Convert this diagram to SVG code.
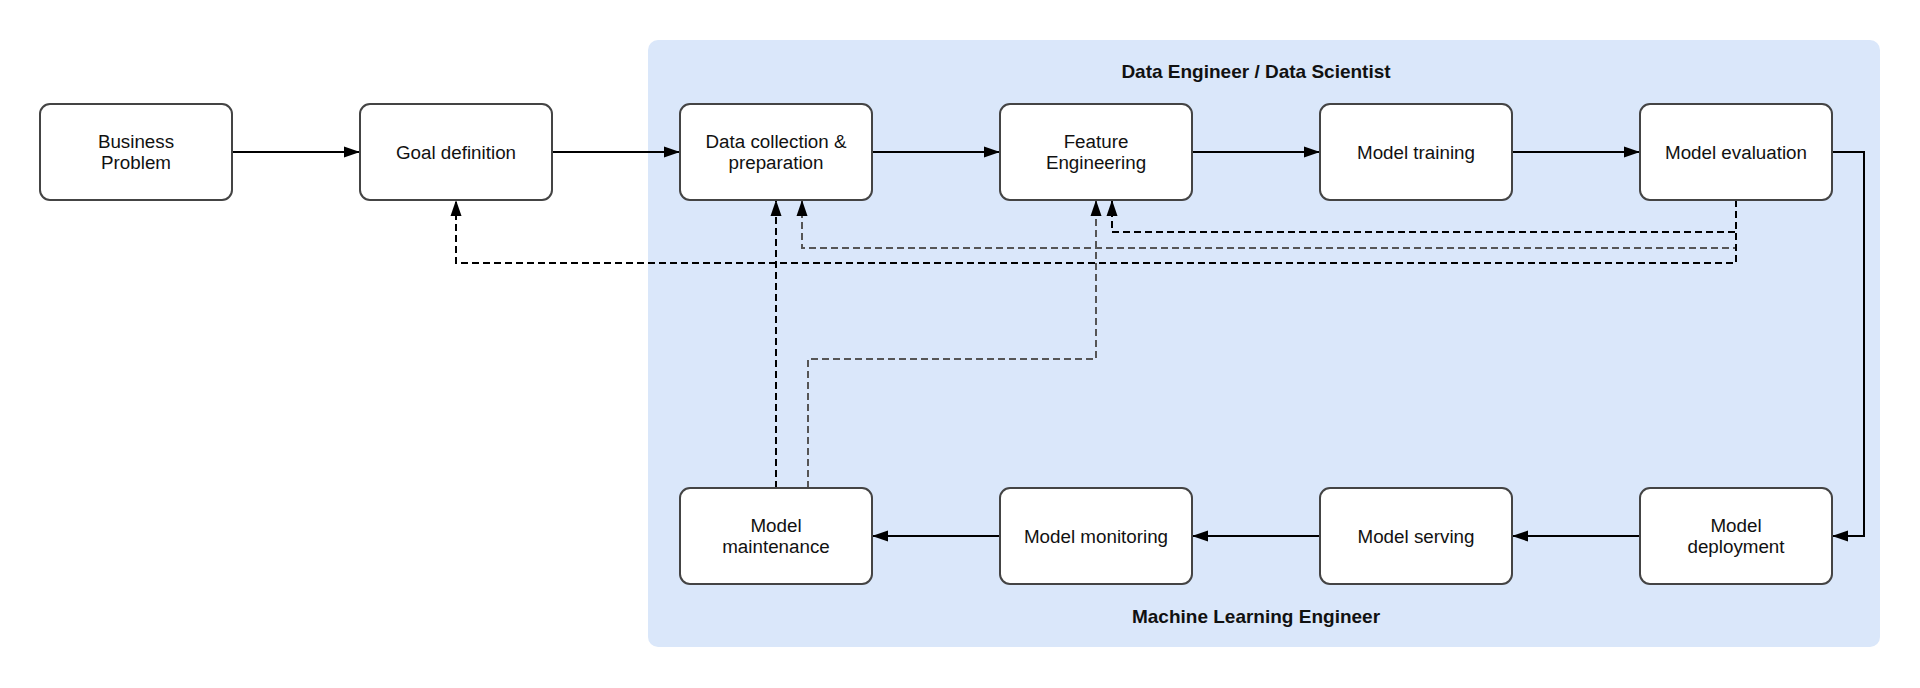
<svg xmlns="http://www.w3.org/2000/svg" width="1920" height="688" viewBox="0 0 1920 688">
<defs>
<style>
.box{fill:#ffffff;stroke:#444444;stroke-width:2}
.lbl{font-family:"Liberation Sans",Arial,sans-serif;font-size:18.8px;fill:#111111;text-anchor:middle}
.title{font-family:"Liberation Sans",Arial,sans-serif;font-size:19px;font-weight:bold;fill:#111111;text-anchor:middle}
.solid{fill:none;stroke:#000000;stroke-width:2}
.dash{fill:none;stroke:#000000;stroke-width:2;stroke-dasharray:7 4}
.dashg{fill:none;stroke:#555555;stroke-width:2;stroke-dasharray:7 4}
</style>
<marker id="arr" markerUnits="userSpaceOnUse" markerWidth="16" markerHeight="12" refX="16" refY="5.5" orient="auto" viewBox="0 0 16 11">
<path d="M0,0 L16,5.5 L0,11 Z" fill="#000000"/>
</marker>
</defs>
<rect width="1920" height="688" fill="#ffffff"/>
<g id="lane">
<rect x="648" y="40" width="1232" height="607" rx="10" ry="10" fill="#dae7fa"/>
<text class="title" x="1256" y="78">Data Engineer / Data Scientist</text>
<text class="title" x="1256" y="623">Machine Learning Engineer</text>
</g>
<g id="connectors">
<path class="solid" d="M232,152 H360" marker-end="url(#arr)"/>
<path class="solid" d="M552,152 H680" marker-end="url(#arr)"/>
<path class="solid" d="M872,152 H1000" marker-end="url(#arr)"/>
<path class="solid" d="M1192,152 H1320" marker-end="url(#arr)"/>
<path class="solid" d="M1512,152 H1640" marker-end="url(#arr)"/>
<path class="solid" d="M1832,152 H1864 V536 H1832" marker-end="url(#arr)"/>
<path class="solid" d="M1640,536 H1512" marker-end="url(#arr)"/>
<path class="solid" d="M1320,536 H1192" marker-end="url(#arr)"/>
<path class="solid" d="M1000,536 H872" marker-end="url(#arr)"/>
<path class="dashg" d="M1736,200 V248 H802 V200" marker-end="url(#arr)"/>
<path class="dashg" d="M808,488 V359 H1096 V200" marker-end="url(#arr)"/>
<path class="dash" d="M1736,200 V263 H456 V200" marker-end="url(#arr)"/>
<path class="dash" d="M1736,200 V232 H1112 V200" marker-end="url(#arr)"/>
<path class="dash" d="M776,488 V200" marker-end="url(#arr)"/>
</g>
<g id="business-problem">
<rect class="box" x="40" y="104" width="192" height="96" rx="10" ry="10"/>
<text class="lbl" x="136" y="148">Business</text>
<text class="lbl" x="136" y="168.5">Problem</text>
</g>
<g id="goal-definition">
<rect class="box" x="360" y="104" width="192" height="96" rx="10" ry="10"/>
<text class="lbl" x="456" y="158.5">Goal definition</text>
</g>
<g id="data-collection">
<rect class="box" x="680" y="104" width="192" height="96" rx="10" ry="10"/>
<text class="lbl" x="776" y="148">Data collection &amp;</text>
<text class="lbl" x="776" y="168.5">preparation</text>
</g>
<g id="feature-engineering">
<rect class="box" x="1000" y="104" width="192" height="96" rx="10" ry="10"/>
<text class="lbl" x="1096" y="148">Feature</text>
<text class="lbl" x="1096" y="168.5">Engineering</text>
</g>
<g id="model-training">
<rect class="box" x="1320" y="104" width="192" height="96" rx="10" ry="10"/>
<text class="lbl" x="1416" y="158.5">Model training</text>
</g>
<g id="model-evaluation">
<rect class="box" x="1640" y="104" width="192" height="96" rx="10" ry="10"/>
<text class="lbl" x="1736" y="158.5">Model evaluation</text>
</g>
<g id="model-deployment">
<rect class="box" x="1640" y="488" width="192" height="96" rx="10" ry="10"/>
<text class="lbl" x="1736" y="532">Model</text>
<text class="lbl" x="1736" y="552.5">deployment</text>
</g>
<g id="model-serving">
<rect class="box" x="1320" y="488" width="192" height="96" rx="10" ry="10"/>
<text class="lbl" x="1416" y="542.5">Model serving</text>
</g>
<g id="model-monitoring">
<rect class="box" x="1000" y="488" width="192" height="96" rx="10" ry="10"/>
<text class="lbl" x="1096" y="542.5">Model monitoring</text>
</g>
<g id="model-maintenance">
<rect class="box" x="680" y="488" width="192" height="96" rx="10" ry="10"/>
<text class="lbl" x="776" y="532">Model</text>
<text class="lbl" x="776" y="552.5">maintenance</text>
</g>
</svg>
